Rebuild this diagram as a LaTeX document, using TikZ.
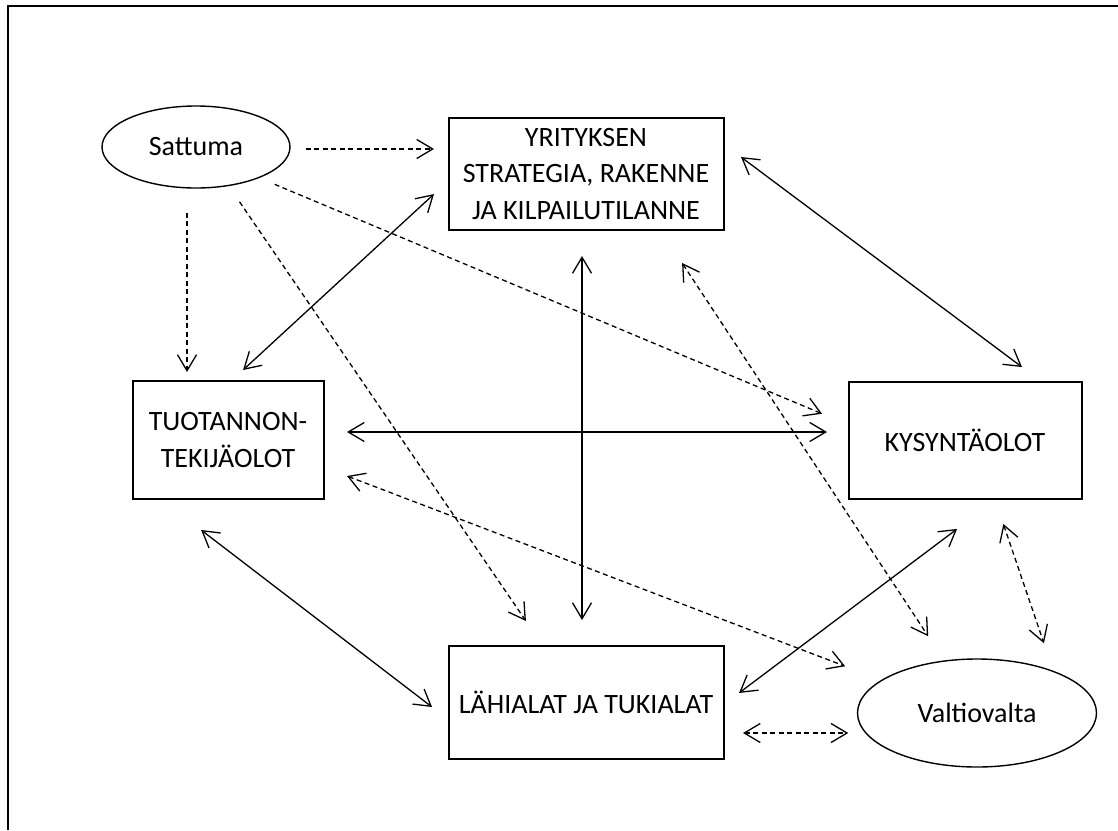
\documentclass[tikz,border=0pt]{standalone}
\usepackage{fontspec}
\setmainfont{Carlito}
\usetikzlibrary{shapes.geometric,arrows.meta}

\begin{document}
\begin{tikzpicture}[x=1pt,y=-1pt,line width=1.3pt,
    >={Straight Barb[length=16pt,width=19pt]},
    box/.style={draw,line width=2pt,minimum width=275pt,minimum height=112pt,
                inner sep=0pt,align=center,font=\fontsize{28}{36.7}\selectfont},
    oval/.style={draw,ellipse,line width=1.4pt,inner sep=0pt,font=\fontsize{28}{34}\selectfont},
    weak/.style={dash pattern=on 5pt off 3.5pt}]
    \useasboundingbox (0,0) rectangle (1118,830);
    \draw[line width=2pt] (8,830) -- (8,6) -- (1118,6);

    \node[oval,minimum width=188pt,minimum height=82pt]  (satt) at (196,147) {Sattuma};
    \node[box]                                           (yrit) at (586,174) {YRITYKSEN\\STRATEGIA, RAKENNE\\JA KILPAILUTILANNE};
    \node[box,minimum width=191pt,minimum height=118pt]  (tuot) at (228,440) {TUOTANNON-\\TEKIJÄOLOT};
    \node[box,minimum width=233pt,minimum height=117pt]  (kys)  at (965,440) {KYSYNTÄOLOT};
    \node[box,minimum height=113pt]                      (lahi) at (586,702) {LÄHIALAT JA TUKIALAT};
    \node[oval,minimum width=239pt,minimum height=108pt] (valt) at (977,713) {Valtiovalta};

    % sattuma -> others
    \draw[weak,->,shorten <=15pt,shorten >=13.5pt] ([yshift=-2pt]satt.east) -- ([yshift=-2pt]satt.east -| yrit.west);
    \draw[weak,->,shorten <=24pt,shorten >=8pt]    ([xshift=-9pt]satt.south) -- ([xshift=-9pt]satt.south |- tuot.north);
    \draw[weak,->,shorten <=19pt,shorten >=28.5pt] (satt.-50) -- ([xshift=-44pt]lahi.north);
    \draw[weak,->,shorten <=16.5pt,shorten >=27.6pt] (satt.-26.3) -- ([yshift=15.6pt]kys.west);

    % diamond
    \draw[<->,shorten <=14.8pt,shorten >=18.4pt] ([xshift=4.2pt]tuot.north) -- ([yshift=-7.6pt]yrit.west);
    \draw[<->,shorten <=20.6pt,shorten >=22.5pt] ([yshift=29.3pt]yrit.east) -- ([xshift=75pt]kys.north);
    \draw[<->,shorten <=25pt,shorten >=24.5pt]   ([xshift=-4pt]yrit.south) -- ([xshift=-4pt]lahi.north);
    \draw[<->,shorten <=22.5pt,shorten >=20.5pt] ([yshift=8pt]tuot.east) -- ([yshift=8pt]kys.west);
    \draw[<->,shorten <=49.3pt,shorten >=19.5pt] ([xshift=-66pt]tuot.south) -- ([yshift=-16.9pt]lahi.west);
    \draw[<->,shorten <=18.2pt,shorten >=49pt]   ([yshift=-1.9pt]lahi.east) -- ([xshift=31.2pt]kys.south);

    % valtiovalta
    \draw[weak,<->,shorten <=24.1pt,shorten >=38.6pt] ([yshift=-27.4pt]tuot.east) -- (valt.161.5);
    \draw[weak,<->,shorten <=38.3pt,shorten >=28.9pt] ([xshift=75pt]yrit.south) -- (valt.122.7);
    \draw[weak,<->,shorten <=25.8pt,shorten >=29pt]   ([xshift=30pt]kys.south) -- (valt.29.8);
    \draw[weak,<->,shorten <=18.5pt,shorten >=8.5pt]  ([yshift=-31pt]lahi.east) -- ([yshift=-31pt]lahi.east -| valt.west);
\end{tikzpicture}
\end{document}
